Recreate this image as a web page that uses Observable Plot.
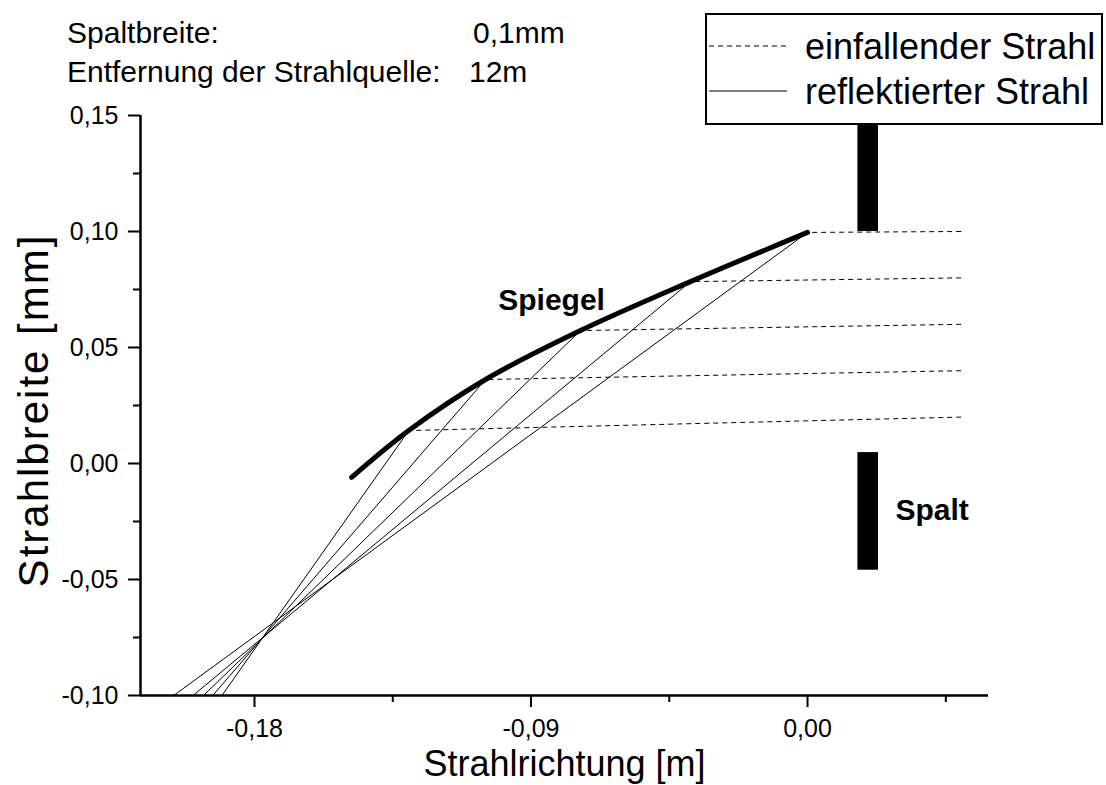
<!DOCTYPE html>
<html>
<head>
<meta charset="utf-8">
<script src="https://cdn.jsdelivr.net/npm/d3@7"></script>
<script src="https://cdn.jsdelivr.net/npm/@observablehq/plot@0.6"></script>
<style>
  body { margin: 0; background: #fff; font-family: "Liberation Sans", Arial, sans-serif; }
  #wrap { position: relative; width: 1106px; height: 785px; overflow: hidden; }
  #legend { position: absolute; left: 705px; top: 13px; }
</style>
</head>
<body>
<div id="wrap"></div>
<script>
// Axis extents and ticks
const xDomain = [-0.2171, 0.0589];
const yDomain = [-0.10, 0.15];
const xTicks = [-0.18, -0.09, 0.00];
const xMinorTicks = [-0.135, -0.045, 0.045];
const yTicks = [-0.10, -0.05, 0.00, 0.05, 0.10, 0.15];
const yMinorTicks = [-0.075, -0.025, 0.025, 0.075, 0.125];

// Incident rays: start at the source side, end on the mirror
const sourceX = 0.05;
const sourceY = [0.02, 0.04, 0.06, 0.08, 0.10];
const hitX = [-0.1298, -0.1048, -0.0739, -0.0381, 0.0];
const hitY = [0.0142, 0.0362, 0.0573, 0.0784, 0.0996];

// Reflected rays: from the mirror down to the lower edge
const exitX = [-0.1906, -0.1936, -0.1966, -0.2000, -0.2063];
const exitY = -0.10;

// Mirror profile
const mirrorX = [-0.1484, -0.1298, -0.1048, -0.0739, -0.0381, 0.0];
const mirrorY = [-0.0060, 0.0142, 0.0362, 0.0573, 0.0784, 0.0996];

// Slit jaws
const slitX1 = 0.0164;
const slitX2 = 0.0231;
const slitLow = [-0.046, 0.10];
const slitHigh = [0.0047, 0.15];

// Annotations
const noteLabels = ["Spaltbreite:", "Entfernung der Strahlquelle:"];
const noteValues = ["0,1mm", "12m"];
const mirrorLabel = {x: -0.0833, y: 0.0703, text: "Spiegel"};
const slitLabel = {x: 0.0286, y: -0.0203, text: "Spalt"};
const legendNames = ["einfallender Strahl", "reflektierter Strahl"];
const legendDashes = ["5,4", null];

const comma = d => d.toFixed(2).replace(".", ",");
const rays = d3.range(sourceY.length);
const mirror = mirrorX.map((x, i) => ({x, y: mirrorY[i]}));
const slits = slitLow.map((y1, i) => ({y1, y2: slitHigh[i]}));
const font = "'Liberation Sans', Arial, sans-serif";

const chart = Plot.plot({
  width: 1106,
  height: 785,
  marginLeft: 140,
  marginRight: 118,
  marginTop: 115,
  marginBottom: 90,
  x: {domain: xDomain},
  y: {domain: yDomain},
  style: {fontFamily: font, color: "#000", background: "#fff", overflow: "visible"},
  marks: [
    // slit jaws
    Plot.rect(slits, {x1: () => slitX1, x2: () => slitX2, y1: "y1", y2: "y2", fill: "#000"}),
    // incident rays (dashed)
    Plot.link(rays, {
      x1: () => sourceX, y1: i => sourceY[i], x2: i => hitX[i], y2: i => hitY[i],
      stroke: "#000", strokeWidth: 1, strokeDasharray: "5,4"
    }),
    // reflected rays
    Plot.link(rays, {
      x1: i => hitX[i], y1: i => hitY[i], x2: i => exitX[i], y2: () => exitY,
      stroke: "#000", strokeWidth: 1
    }),
    // mirror
    Plot.line(mirror, {x: "x", y: "y", curve: "catmull-rom", stroke: "#000", strokeWidth: 5, strokeLinecap: "round"}),
    // axes
    Plot.axisX({ticks: xTicks, tickSize: 12, tickPadding: 12, tickFormat: comma, fontSize: 25, strokeWidth: 2, label: null}),
    Plot.axisX({ticks: xMinorTicks, tickSize: 7, tickFormat: () => "", strokeWidth: 2, label: null}),
    Plot.axisY({ticks: yTicks, tickSize: 12, tickPadding: 10, tickFormat: comma, fontSize: 25, strokeWidth: 2, label: null}),
    Plot.axisY({ticks: yMinorTicks, tickSize: 7, tickFormat: () => "", strokeWidth: 2, label: null}),
    Plot.ruleY([yDomain[0]], {stroke: "#000", strokeWidth: 2.5}),
    Plot.ruleX([xDomain[0]], {stroke: "#000", strokeWidth: 2.5}),
    // axis titles
    Plot.text(["Strahlrichtung [m]"], {text: d => d, frameAnchor: "bottom", dy: 80, lineAnchor: "bottom", textAnchor: "middle", fontSize: 36}),
    Plot.text(["Strahlbreite [mm]"], {text: d => d, frameAnchor: "left", rotate: -90, dx: -93, dy: 5, lineAnchor: "bottom", textAnchor: "middle", fontSize: 42}),
    // in-plot labels
    Plot.text([mirrorLabel], {x: "x", y: "y", text: "text", textAnchor: "middle", fontSize: 30, fontWeight: "bold"}),
    Plot.text([slitLabel], {x: "x", y: "y", text: "text", textAnchor: "start", fontSize: 30, fontWeight: "bold"})
  ]
});

// a touch of tracking on the vertical title
d3.select(chart).selectAll("text")
  .filter(function() { return this.textContent === "Strahlbreite [mm]"; })
  .style("letter-spacing", "2px");

// header notes above the plot frame
const svg = d3.select(chart);
const noteBaselines = [43, 82];
const valueX = [473, 469];
const noteG = svg.append("g").attr("font-size", 30).attr("font-family", font).attr("text-anchor", "start");
noteLabels.forEach((t, i) => {
  noteG.append("text").attr("x", 67).attr("y", noteBaselines[i]).text(t);
  noteG.append("text").attr("x", valueX[i]).attr("y", noteBaselines[i]).text(noteValues[i]);
});

document.getElementById("wrap").appendChild(chart);

// legend box
const lg = d3.select("#wrap").append("svg")
  .attr("id", "legend").attr("width", 398).attr("height", 112)
  .style("font-family", font);
lg.append("rect").attr("x", 1).attr("y", 1).attr("width", 396).attr("height", 110)
  .attr("fill", "#fff").attr("stroke", "#000").attr("stroke-width", 2);
legendNames.forEach((name, i) => {
  const cy = 33 + i * 45;
  lg.append("line").attr("x1", 4).attr("x2", 82).attr("y1", cy).attr("y2", cy)
    .attr("stroke", "#000").attr("stroke-width", 1).attr("stroke-dasharray", legendDashes[i]);
  lg.append("text").attr("x", 100).attr("y", cy).attr("dy", "0.35em")
    .attr("font-size", 36).text(name);
});
</script>
</body>
</html>
